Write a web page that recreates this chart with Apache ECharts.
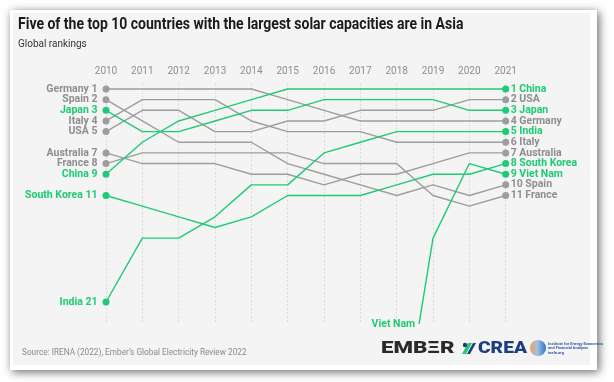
<!DOCTYPE html>
<html>
<head>
<meta charset="utf-8">
<script src="https://cdn.jsdelivr.net/npm/echarts@6/dist/echarts.min.js"></script>
<style>
html,body{margin:0;padding:0;background:#fff;}
#chart{width:614px;height:382px;}
</style>
</head>
<body>
<div id="chart"></div>
<script>
// ---- data ----
const years = [2010, 2011, 2012, 2013, 2014, 2015, 2016, 2017, 2018, 2019, 2020, 2021];
const yearLabels = ['2010','2011','2012','2013','2014','2015','2016','2017','2018','2019','2020','2021'];
const germany    = [1, 1, 1, 1, 1, 2, 3, 4, 4, 4, 4, 4];
const spain      = [2, 4, 6, 6, 6, 8, 9, 10, 11, 10, 11, 10];
const italy      = [4, 2, 2, 2, 4, 5, 5, 5, 6, 6, 6, 6];
const usa        = [5, 3, 3, 5, 5, 4, 4, 3, 3, 3, 2, 2];
const australia  = [7, 8, 8, 8, 9, 9, 10, 9, 9, 8, 7, 7];
const france     = [8, 7, 7, 7, 7, 7, 8, 8, 8, 11, 12, 11];
const japan      = [3, 5, 5, 4, 3, 3, 2, 2, 2, 2, 3, 3];
const china      = [9, 6, 4, 3, 2, 1, 1, 1, 1, 1, 1, 1];
const southKorea = [11, 12, 13, 14, 13, 11, 11, 11, 10, 9, 9, 8];
const india      = [21, 15, 15, 13, 10, 10, 7, 6, 5, 5, 5, 5];
const vietNam    = [null, null, null, null, null, null, null, null, 36, 15, 8, 9];

const grayCountries  = [['Germany', germany], ['Spain', spain], ['Italy', italy], ['USA', usa], ['Australia', australia], ['France', france]];
const greenCountries = [['Japan', japan], ['China', china], ['South Korea', southKorea], ['India', india], ['Viet Nam', vietNam]];

const GREEN = '#1ecb74';
const GRAY = '#9d9d9d';
const GRAY_TEXT = '#8e8e8e';
const FONT = 'Roboto';

function makeSeries(name, ranks, color) {
  const pts = [];
  ranks.forEach((r, i) => {
    if (r === null) return;
    const item = { value: [years[i], r], symbolSize: 0 };
    if (i === 0) {
      item.symbolSize = 7;
      item.label = { show: true, position: 'left', distance: 5, formatter: name + ' ' + r,
        color: color === GREEN ? GREEN : GRAY_TEXT, fontWeight: 'bold', fontSize: 10.5, fontFamily: FONT };
    }
    if (i === ranks.length - 1) item.symbolSize = 7;
    pts.push(item);
  });
  const last = ranks[ranks.length - 1];
  return {
    type: 'line', name: name, data: pts, symbol: 'circle', showSymbol: true,
    lineStyle: { color: color, width: 1.4 }, itemStyle: { color: color },
    z: color === GREEN ? 4 : 3,
    emphasis: { disabled: true },
    label: { show: false },
    endLabel: { show: true, formatter: last + ' ' + name, distance: 5,
      color: color === GREEN ? GREEN : GRAY_TEXT, fontWeight: 'bold', fontSize: 10.5, fontFamily: FONT }
  };
}

const series = [];
grayCountries.forEach(c => series.push(makeSeries(c[0], c[1], GRAY)));
greenCountries.forEach(c => series.push(makeSeries(c[0], c[1], GREEN)));

const chart = echarts.init(document.getElementById('chart'), null, { renderer: 'canvas' });
const option = {
  animation: false,
  backgroundColor: 'transparent',
  textStyle: { fontFamily: FONT },
  grid: { left: 106, right: 108.3, top: 83.7, height: 239.6 },
  xAxis: {
    type: 'value', position: 'top', min: 2010, max: 2021, interval: 1,
    axisLine: { show: false }, axisTick: { show: false },
    axisLabel: { margin: 7, color: GRAY_TEXT, fontSize: 10, fontFamily: FONT,
      formatter: v => yearLabels[years.indexOf(v)] },
    splitLine: { show: true, lineStyle: { type: [2, 2], color: '#d8d8d8', width: 1 } }
  },
  yAxis: {
    type: 'value', inverse: true, min: 0.5, max: 23, show: false
  },
  graphic: [
    { type: 'rect', shape: { x: 10, y: 10, width: 587, height: 360 }, z: -10,
      style: { fill: '#fff', shadowBlur: 9, shadowColor: 'rgba(0,0,0,0.6)', shadowOffsetX: 2, shadowOffsetY: 2 } },
    { type: 'rect', shape: { x: 13, y: 13, width: 577, height: 352 }, z: -9, style: { fill: '#f4f4f4' } },
    { type: 'text', x: 18, y: 17, scaleX: 0.875, z: 10,
      style: { text: 'Five of the top 10 countries with the largest solar capacities are in Asia',
        fontSize: 16, fontWeight: 'bold', fontFamily: FONT, fill: '#1b1b1b', verticalAlign: 'top' } },
    { type: 'text', x: 18, y: 39, scaleX: 0.95, z: 10,
      style: { text: 'Global rankings', fontSize: 10.5, fontFamily: FONT, fill: '#333', verticalAlign: 'top' } },
    { type: 'text', x: 22, y: 347.5, scaleX: 0.87, z: 10,
      style: { text: 'Source: IRENA (2022), Ember\u2019s Global Electricity Review 2022', fontSize: 9.5, fontFamily: FONT, fill: '#8a8a8a', verticalAlign: 'top' } },
    // logos
    { type: 'text', x: 381, y: 348.5, scaleX: 1.31, z: 10,
      style: { text: 'EMB\u039eR', fontSize: 17, fontWeight: 900, fontFamily: FONT, fill: '#2a2a2a', verticalAlign: 'middle' } },
    { type: 'polygon', z: 10, shape: { points: [[462, 354], [468, 343], [472, 343], [466, 354]] }, style: { fill: GREEN } },
    { type: 'polygon', z: 10, shape: { points: [[467, 354], [473, 343], [476, 343], [470, 354]] }, style: { fill: '#1d3f7d' } },
    { type: 'circle', z: 10, shape: { cx: 465, cy: 345, r: 2.2 }, style: { fill: '#1d3f7d' } },
    { type: 'text', x: 478, y: 348.5, scaleX: 1.13, z: 10,
      style: { text: 'CREA', fontSize: 17, fontWeight: 900, fontFamily: FONT, fill: '#1d3f7d', verticalAlign: 'middle' } },
    { type: 'circle', z: 10, shape: { cx: 538, cy: 348, r: 8 },
      style: { fill: new echarts.graphic.LinearGradient(0, 0, 1, 0, [{ offset: 0, color: '#f2a446' }, { offset: 0.45, color: '#9fc1e6' }, { offset: 1, color: '#2f73c4' }]) } },
    { type: 'text', x: 548, y: 341.5, z: 10,
      style: { text: 'Institute for Energy Economics\nand Financial Analysis\nieefa.org', fontSize: 4, lineHeight: 4.6, fontWeight: 'bold', fontFamily: FONT, fill: '#2f5fa8', verticalAlign: 'top' } }
  ],
  series: series
};
chart.setOption(option);

// place the "Viet Nam" label where its line enters the plot
(function () {
  const i0 = 8, i1 = 9;
  const p0 = chart.convertToPixel({ gridIndex: 0 }, [years[i0], vietNam[i0]]);
  const p1 = chart.convertToPixel({ gridIndex: 0 }, [years[i1], vietNam[i1]]);
  const yb = chart.convertToPixel({ gridIndex: 0 }, [years[i0], 23])[1];
  const t = (p0[1] - yb) / (p0[1] - p1[1]);
  const xb = p0[0] + t * (p1[0] - p0[0]);
  const g = option.graphic.slice();
  g.push({ type: 'text', x: xb - 4, y: yb + 1, z: 10,
    style: { text: 'Viet Nam', align: 'right', verticalAlign: 'middle', fontSize: 10.5, fontWeight: 'bold', fontFamily: FONT, fill: GREEN } });
  chart.setOption({ graphic: g }, { replaceMerge: ['graphic'] });
})();
</script>
</body>
</html>
